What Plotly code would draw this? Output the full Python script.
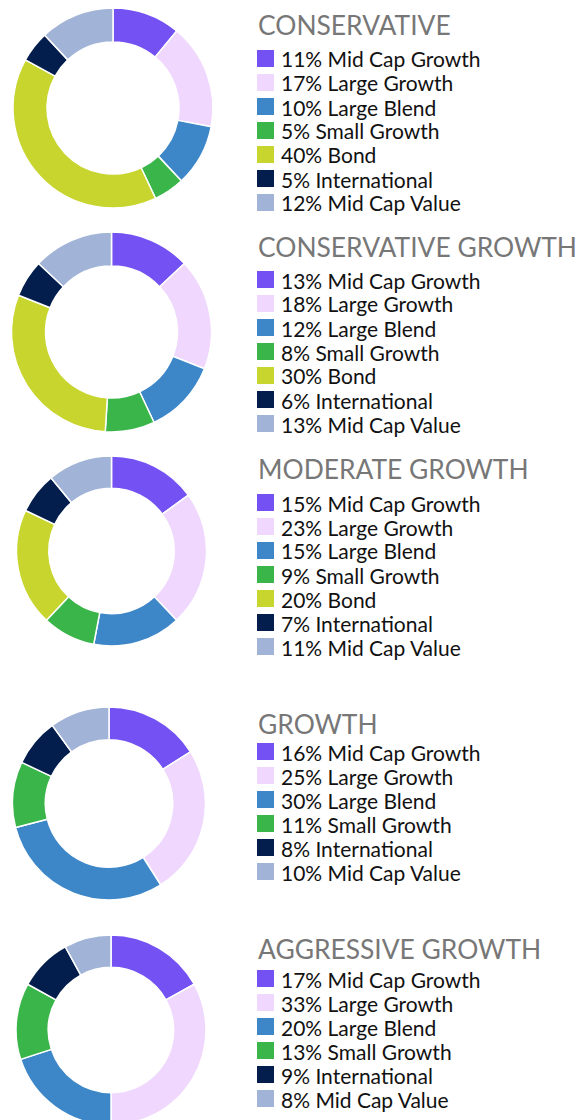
import plotly.graph_objects as go

W, H = 585, 1120
OFF = 8  # page body margin: figure origin sits 8px right/down of the window origin

categories = ["Mid Cap Growth", "Large Growth", "Large Blend", "Small Growth",
              "Bond", "International", "Mid Cap Value"]
colors = {
    "Mid Cap Growth": "#7351F2",
    "Large Growth": "#F0D7FD",
    "Large Blend": "#3D87C8",
    "Small Growth": "#3AB54A",
    "Bond": "#C7D52E",
    "International": "#031E4C",
    "Mid Cap Value": "#A1B3D6",
}

portfolio_titles = ["CONSERVATIVE", "CONSERVATIVE GROWTH", "MODERATE GROWTH",
                    "GROWTH", "AGGRESSIVE GROWTH"]

conservative_cats = ["Mid Cap Growth", "Large Growth", "Large Blend", "Small Growth",
                     "Bond", "International", "Mid Cap Value"]
conservative_vals = [11, 17, 10, 5, 40, 5, 12]

cons_growth_cats = ["Mid Cap Growth", "Large Growth", "Large Blend", "Small Growth",
                    "Bond", "International", "Mid Cap Value"]
cons_growth_vals = [13, 18, 12, 8, 30, 6, 13]

moderate_cats = ["Mid Cap Growth", "Large Growth", "Large Blend", "Small Growth",
                 "Bond", "International", "Mid Cap Value"]
moderate_vals = [15, 23, 15, 9, 20, 7, 11]

growth_cats = ["Mid Cap Growth", "Large Growth", "Large Blend", "Small Growth",
               "International", "Mid Cap Value"]
growth_vals = [16, 25, 30, 11, 8, 10]

aggressive_cats = ["Mid Cap Growth", "Large Growth", "Large Blend", "Small Growth",
                   "International", "Mid Cap Value"]
aggressive_vals = [17, 33, 20, 13, 9, 8]

panels = [
    (portfolio_titles[0], conservative_cats, conservative_vals),
    (portfolio_titles[1], cons_growth_cats, cons_growth_vals),
    (portfolio_titles[2], moderate_cats, moderate_vals),
    (portfolio_titles[3], growth_cats, growth_vals),
    (portfolio_titles[4], aggressive_cats, aggressive_vals),
]

# window-pixel positions: donut box (x0, x1, y_top, y_bottom), title center y, first row center y
donut_boxes = [
    (13, 213, 8, 208),
    (11, 212, 232, 432),
    (16, 207, 456, 646),
    (12, 206, 707, 900),
    (16, 206, 935, 1125),
]
title_y = [24.5, 247.5, 469, 723.5, 948.5]
row0_y = [58.5, 279.5, 502.5, 751.5, 978.5]
ROW_GAP = 24
SQ_X0, SQ_X1, SQ = 257, 274, 17
TEXT_X = 279

FONT = "Lato"


def fx(x):
    return (x - OFF) / W


def fy(y):
    return 1 - (y - OFF) / H


fig = go.Figure()
annotations = []
shapes = []

for i, (title, cats, vals) in enumerate(panels):
    x0, x1, yt, yb = donut_boxes[i]
    fig.add_trace(go.Pie(
        labels=cats,
        values=vals,
        sort=False,
        direction="clockwise",
        rotation=0,
        hole=0.66,
        marker=dict(colors=[colors[c] for c in cats],
                    line=dict(color="white", width=1.5)),
        textinfo="none",
        hoverinfo="label+percent",
        showlegend=False,
        domain=dict(x=[fx(x0), fx(x1)], y=[max(0, fy(yb)), fy(yt)]),
    ))
    annotations.append(dict(
        x=fx(SQ_X0 - 1), y=fy(title_y[i]), xref="paper", yref="paper",
        xanchor="left", yanchor="middle", showarrow=False,
        text=title, font=dict(family=FONT, size=26.4, color="#777777"),
    ))
    for k, (c, v) in enumerate(zip(cats, vals)):
        cy = row0_y[i] + k * ROW_GAP
        shapes.append(dict(
            type="rect", xref="paper", yref="paper",
            x0=fx(SQ_X0), x1=fx(SQ_X1),
            y0=fy(cy + SQ / 2), y1=fy(cy - SQ / 2),
            fillcolor=colors[c], line=dict(width=0),
        ))
        annotations.append(dict(
            x=fx(TEXT_X), y=fy(cy + 0.5), xref="paper", yref="paper",
            xanchor="left", yanchor="middle", showarrow=False,
            text=f"{v}% {c}", font=dict(family=FONT, size=21, color="#111111"),
        ))

fig.update_layout(
    width=W, height=H,
    margin=dict(l=0, r=0, t=0, b=0),
    paper_bgcolor="white", plot_bgcolor="white",
    annotations=annotations, shapes=shapes,
)

fig.write_html("out.html")
